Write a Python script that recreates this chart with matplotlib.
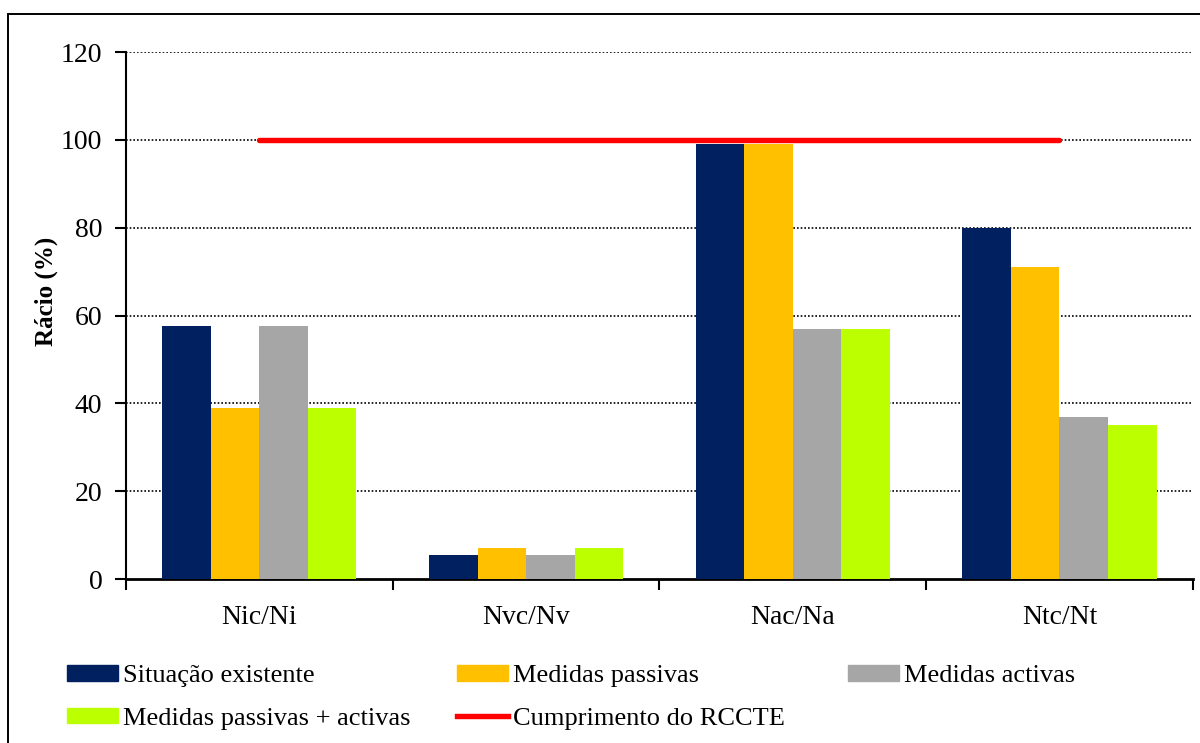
import matplotlib.pyplot as plt
from matplotlib.patches import Rectangle, Patch
from matplotlib.lines import Line2D
import numpy as np

plt.rcParams['font.family'] = ['Liberation Serif', 'DejaVu Serif']

# categories and series values (%)
categories = ["Nic/Ni", "Nvc/Nv", "Nac/Na", "Ntc/Nt"]
situacao_existente = [57.5, 5.5, 99.0, 80.0]
medidas_passivas = [39.0, 7.0, 99.0, 71.0]
medidas_activas = [57.5, 5.5, 57.0, 37.0]
passivas_activas = [39.0, 7.0, 57.0, 35.0]
cumprimento_rccte = [100, 100, 100, 100]

series_labels = ["Situação existente", "Medidas passivas", "Medidas activas",
                 "Medidas passivas + activas"]
series_colors = ["#002060", "#FFC000", "#A6A6A6", "#BBFF00"]
line_label = "Cumprimento do RCCTE"
line_color = "#FF0000"

fig = plt.figure(figsize=(12, 7.43), dpi=100)
ax = fig.add_axes([0.105, 0.2207, 0.889, 0.7093])

x = np.arange(len(categories))
width = 0.182
all_series = [situacao_existente, medidas_passivas, medidas_activas, passivas_activas]
for i, (vals, col) in enumerate(zip(all_series, series_colors)):
    ax.bar(x + (i - 1.5) * width, vals, width, color=col, zorder=3)

ax.plot(x, cumprimento_rccte, color=line_color, lw=3.9, zorder=4,
        solid_capstyle='round')

ax.set_xlim(-0.5, len(categories) - 0.5)
ax.set_ylim(0, 120)
ax.set_yticks(np.arange(0, 121, 20))
for yv in np.arange(20, 121, 20):
    ax.axhline(yv, color='black', lw=1.2, ls=(0, (1, 1.2)), zorder=1)

# category boundaries as major ticks, labels on minor ticks at centers
ax.set_xticks(np.arange(-0.5, len(categories), 1.0))
ax.set_xticklabels([])
ax.set_xticks(x, minor=True)
ax.set_xticklabels(categories, minor=True)
ax.tick_params(axis='x', which='major', direction='out', length=8, width=1.5)
ax.tick_params(axis='x', which='minor', length=0, pad=19, labelsize=20)
ax.tick_params(axis='y', direction='out', length=8, width=1.5, pad=9,
               labelsize=20)

for side in ['top', 'right']:
    ax.spines[side].set_visible(False)
ax.spines['left'].set_linewidth(1.5)
ax.spines['bottom'].set_linewidth(2)

fig.text(46 / 1200, 1 - 291 / 743, "Rácio (%)", fontsize=18, fontweight='bold',
         rotation=90, ha='center', va='center')

# legend laid out in three fixed columns
handles = [Patch(color=c, label=l) for c, l in zip(series_colors, series_labels)]
handles.append(Line2D([], [], color=line_color, lw=3.9, label=line_label))
cols = [[handles[0], handles[3]], [handles[1], handles[4]], [handles[2]]]
col_x = [0.056, 0.381, 0.707]
for hs, cx in zip(cols, col_x):
    fig.legend(handles=hs, loc='upper left', bbox_to_anchor=(cx, 0.1046),
               frameon=False, fontsize=19, handlelength=1.93, handleheight=0.53,
               handletextpad=0.19, labelspacing=0.77, borderaxespad=0,
               borderpad=0)

# outer chart border
fig.patches.append(Rectangle((8 / 1200, -0.05), 1.2, 0.981 + 0.05,
                             transform=fig.transFigure, fill=False,
                             edgecolor='black', lw=1.4))

fig.savefig("out.png", dpi=100)
